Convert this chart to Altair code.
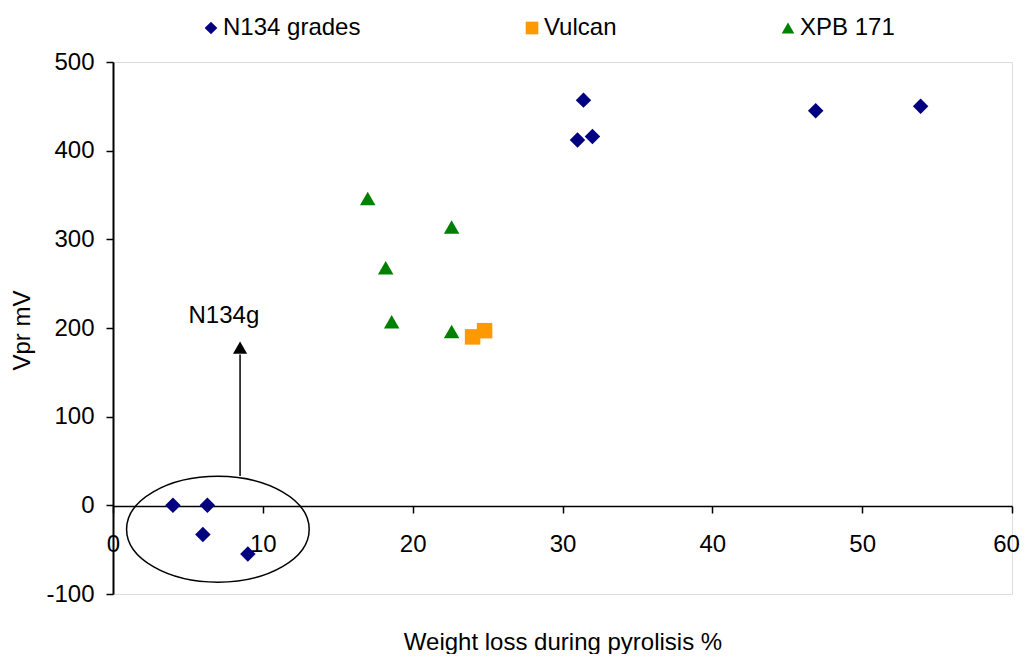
import altair as alt
import pandas as pd

FONT = "Liberation Sans"

# Series data
n134_x = [4.0, 6.3, 6.0, 9.0, 31.4, 31.0, 32.0, 46.9, 53.9]
n134_y = [0, 0, -33, -55, 457, 412, 416, 445, 450]
vulcan_x = [24.0, 24.8]
vulcan_y = [190, 197]
xpb_x = [17.0, 22.6, 18.2, 18.6, 22.6]
xpb_y = [346, 314, 268, 207, 196]

series_names = ["N134 grades", "Vulcan", "XPB 171"]
series_colors = ["#000080", "#FF9900", "#008000"]
series_shapes = ["diamond", "square", "triangle-up"]

x_ticks = [0, 10, 20, 30, 40, 50, 60]
y_ticks = [-100, 0, 100, 200, 300, 400, 500]

# Annotation (ellipse around N134g, arrow, label)
ellipse_center = {"x": [7.0], "y": [-27]}
arrow = {"x": [8.48], "y": [33], "y2": [170]}
arrow_head = {"x": [8.48], "y": [178]}
label = {"x": [7.4], "y": [214], "t": ["N134g"]}

rows = []
for name, xs, ys in [("N134 grades", n134_x, n134_y), ("Vulcan", vulcan_x, vulcan_y), ("XPB 171", xpb_x, xpb_y)]:
    for a, b in zip(xs, ys):
        rows.append({"x": a, "y": b, "series": name})
df = pd.DataFrame(rows)

FS = 24

X = alt.X("x:Q", scale=alt.Scale(domain=[0, 60], nice=False),
          axis=alt.Axis(values=x_ticks, offset=-88, title="Weight loss during pyrolisis %",
                        grid=False, domainColor="black", domainWidth=1.5, tickColor="black",
                        tickWidth=1.5, tickSize=7, labelPadding=19, labelFontSize=FS,
                        labelOffset={"condition": {"test": "datum.value == 60", "value": -6}, "value": 0},
                        labelFont=FONT, labelColor="black", titleFont=FONT, titleFontSize=FS,
                        titleFontWeight="normal", titleColor="black", titleY=143,
                        titleBaseline="alphabetic", labelFlush=False, labelOverlap=False))
Y = alt.Y("y:Q", scale=alt.Scale(domain=[-100, 500], nice=False),
          axis=alt.Axis(values=y_ticks, title="Vpr  mV", grid=False, domainColor="black",
                        domainWidth=2, tickColor="black", tickWidth=1.5, tickSize=7,
                        labelPadding=12, labelFontSize=FS, labelFont=FONT, labelColor="black",
                        labelExpr="toString(datum.value)",
                        titleFont=FONT, titleFontSize=FS, titleFontWeight="normal",
                        titleColor="black", titleAngle=270, titleX=-84, titleY=268,
                        titleBaseline="alphabetic", labelFlush=False, labelOverlap=False))

ELLIPSE = "M -1 0 A 1 0.58 0 1 1 1 0 A 1 0.58 0 1 1 -1 0 Z"

ell = alt.Chart(pd.DataFrame(ellipse_center)).mark_point(
    shape=ELLIPSE, size=33343, filled=False, color="black", strokeWidth=1.5, opacity=1
).encode(x=X, y=Y)

rule = alt.Chart(pd.DataFrame(arrow)).mark_rule(color="black", strokeWidth=1.5).encode(
    x=X, y=Y, y2="y2:Q")

head = alt.Chart(pd.DataFrame(arrow_head)).mark_point(
    shape="triangle-up", size=200, filled=True, color="black", opacity=1
).encode(x=X, y=Y)

txt = alt.Chart(pd.DataFrame(label)).mark_text(
    font=FONT, fontSize=FS, color="black", baseline="middle", align="center"
).encode(x=X, y=Y, text="t:N")

pts = alt.Chart(df).mark_point(filled=True, opacity=1, size=240).encode(
    x=X, y=Y,
    color=alt.Color("series:N", scale=alt.Scale(domain=series_names, range=series_colors),
                    legend=alt.Legend(title=None, orient="none", legendX=86, legendY=-46,
                                      direction="horizontal", columnPadding=159,
                                      labelFont=FONT, labelFontSize=FS, labelColor="black",
                                      symbolSize=160, symbolStrokeWidth=0, padding=0,
                                      labelOffset=0, labelLimit=300)),
    shape=alt.Shape("series:N", scale=alt.Scale(domain=series_names, range=series_shapes)),
)

chart = alt.layer(ell, rule, head, txt, pts).properties(
    width=899, height=532,
    autosize=alt.AutoSizeParams(type="none"),
    padding={"left": 105, "top": 54, "right": 8, "bottom": 60},
).configure_view(stroke="#808080", strokeWidth=2).configure(background="white")

chart.save("out.html", embed_options={"renderer": "svg", "actions": False})
